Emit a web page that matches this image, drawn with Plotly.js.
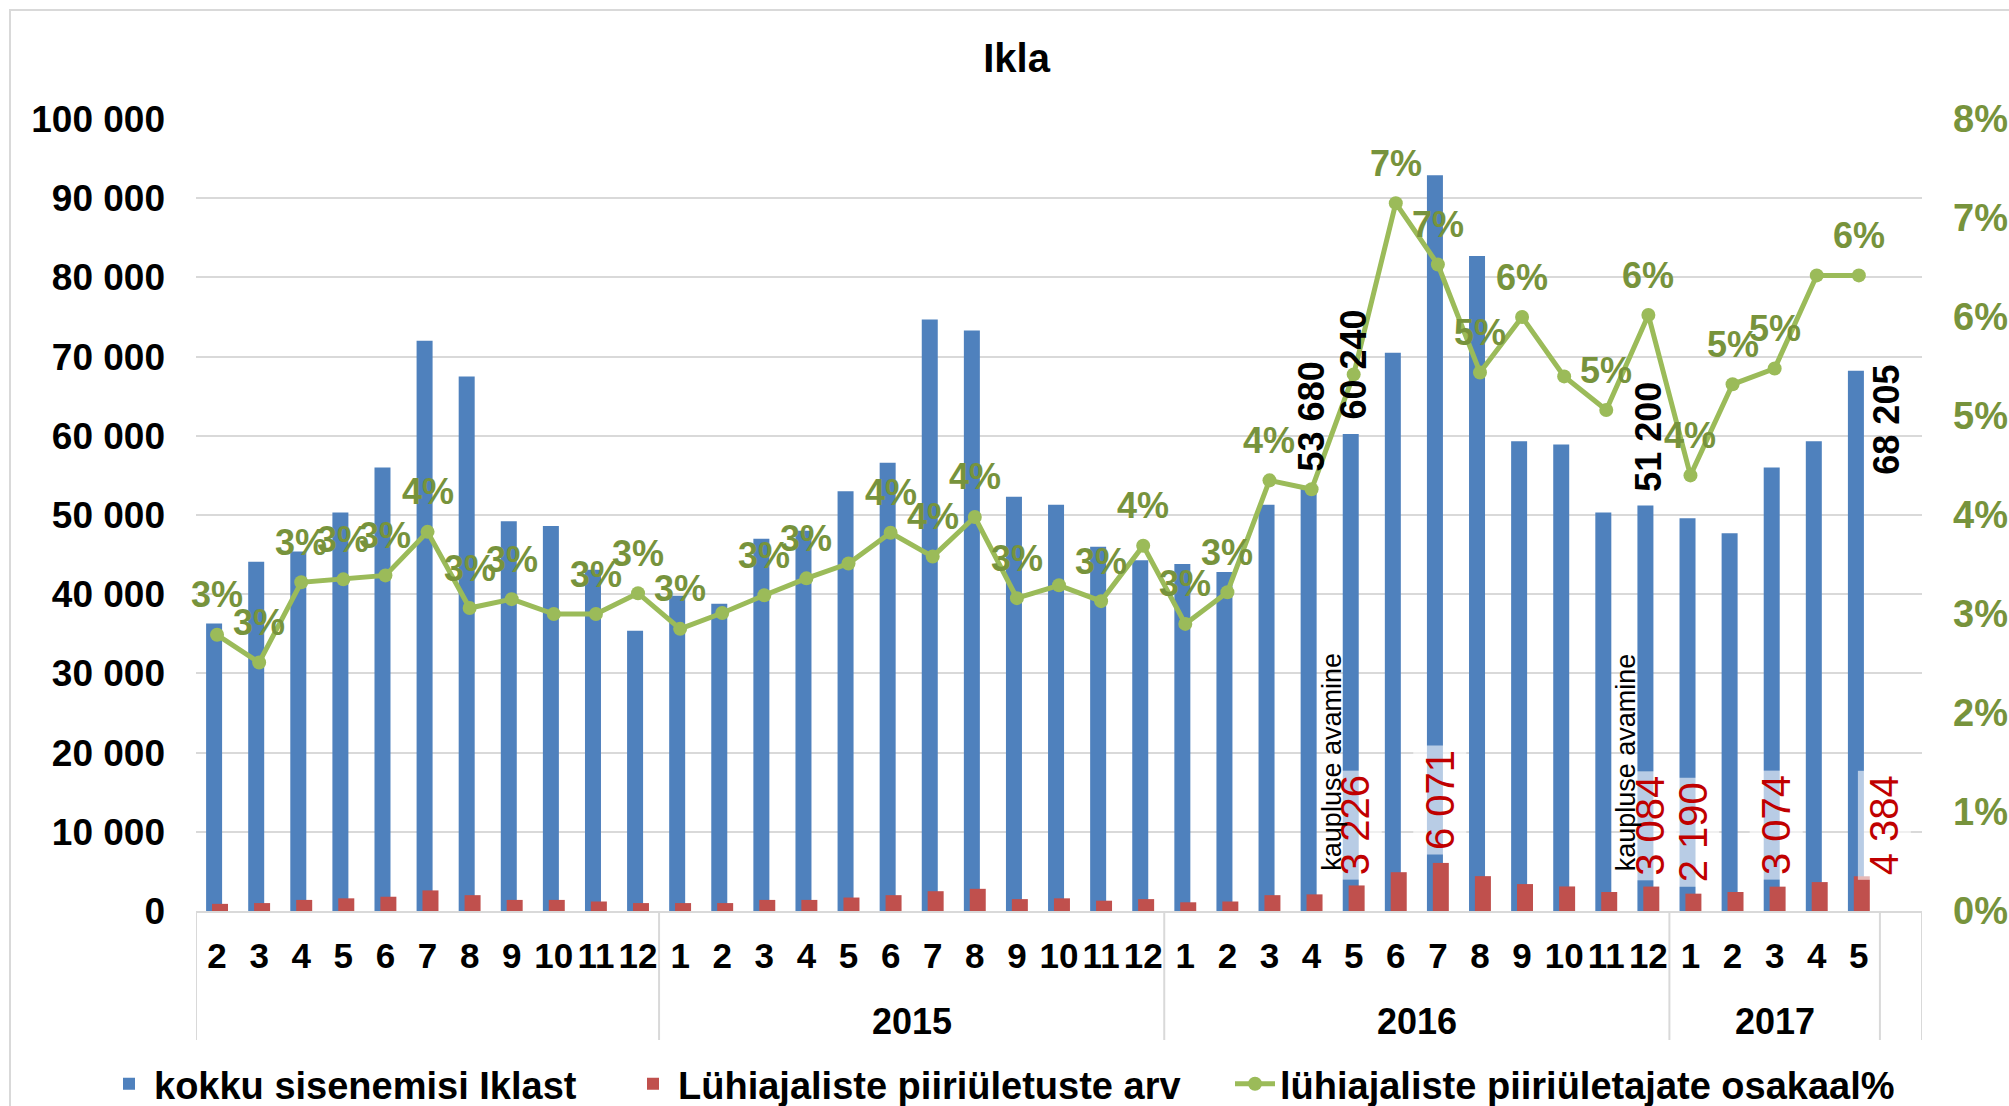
<!DOCTYPE html>
<html>
<head>
<meta charset="utf-8">
<script src="https://cdn.plot.ly/plotly-3.0.1.min.js"></script>
<style>html,body{margin:0;padding:0;background:#fff;}#chart{width:2009px;height:1106px;}</style>
</head>
<body>
<div id="chart"></div>
<script>
// ---- data ----
const monthLabels = ['2','3','4','5','6','7','8','9','10','11','12',
  '1','2','3','4','5','6','7','8','9','10','11','12',
  '1','2','3','4','5','6','7','8','9','10','11','12',
  '1','2','3','4','5'];
const yearLabels = ['','','','','','','','','','','',
  '2015','2015','2015','2015','2015','2015','2015','2015','2015','2015','2015','2015',
  '2016','2016','2016','2016','2016','2016','2016','2016','2016','2016','2016','2016',
  '2017','2017','2017','2017','2017'];
const totalEntries = [36300, 44100, 45400, 50300, 56000, 72000, 67500, 49200, 48600, 43100, 35400,
  39800, 38800, 47000, 48000, 53000, 56600, 74700, 73300, 52300, 51300, 46000, 44300,
  43800, 42800, 51300, 53680, 60240, 70500, 92900, 82700, 59300, 58900, 50300, 51200,
  49600, 47700, 56000, 59300, 68205];
const shortCrossings = [900, 1000, 1400, 1600, 1800, 2600, 2000, 1400, 1400, 1200, 1000,
  1000, 1000, 1400, 1400, 1700, 2000, 2500, 2800, 1500, 1600, 1300, 1500,
  1100, 1200, 2000, 2100, 3226, 4900, 6071, 4400, 3400, 3100, 2400, 3084,
  2190, 2400, 3074, 3650, 4384];
const sharePct = [2.79, 2.51, 3.32, 3.35, 3.39, 3.83, 3.06, 3.15, 3.00, 3.00, 3.21,
  2.85, 3.01, 3.19, 3.36, 3.51, 3.82, 3.58, 3.98, 3.16, 3.29, 3.13, 3.69,
  2.90, 3.22, 4.35, 4.26, 5.42, 7.15, 6.53, 5.44, 6.00, 5.40, 5.06, 6.02,
  4.40, 5.32, 5.48, 6.42, 6.42];
const shareHiddenLabels = [8, 12, 15, 20, 26, 27, 32, 38];
const totalLabelIdx = [26, 27, 34, 39];
const shortLabelIdx = [27, 29, 34, 35, 37, 39];
const noteIdx = [27, 34];
const noteText = 'kaupluse avamine';
const seriesNames = ['kokku sisenemisi Iklast', 'Lühiajaliste piiriületuste arv', 'lühiajaliste piiriületajate osakaal%'];

// ---- styles ----
const FONT = 'Liberation Sans, Arial, sans-serif';
const BLUE = '#4f81bd', RED = '#c0504d', GREEN = '#9bbb59', OLIVE = '#77933c', GRID = '#d9d9d9';
const N = monthLabels.length;
const idx = monthLabels.map((_, i) => i);
const fmt = v => String(v).replace(/\B(?=(\d{3})+(?!\d))/g, ' ');
const PLOT_H = 792;

const traces = [
  {type: 'bar', name: seriesNames[0], x: idx, y: totalEntries, marker: {color: BLUE},
   width: 0.38, offset: -0.26, legend: 'legend'},
  {type: 'bar', name: seriesNames[1], x: idx, y: shortCrossings, marker: {color: RED},
   width: 0.38, offset: -0.12, legend: 'legend2'},
  {type: 'scatter', name: seriesNames[2], x: idx, y: sharePct, yaxis: 'y2',
   mode: 'lines+markers', line: {color: GREEN, width: 5}, marker: {color: GREEN, size: 14},
   cliponaxis: false, legend: 'legend3'}
];

const annotations = [];
// percentage labels above line points
sharePct.forEach((v, i) => {
  if (shareHiddenLabels.includes(i)) return;
  annotations.push({xref: 'x', yref: 'y2', x: i, y: v, text: Math.round(v) + '%', showarrow: false,
    yanchor: 'middle', yshift: 40, font: {family: FONT, size: 36, weight: 'bold', color: OLIVE}});
});
shortLabelIdx.forEach(i => {
  let yv = 10800, xs = 2;
  if (shortCrossings[i] > 6000) yv = 14000;
  if (shortCrossings[i] < 2500) yv = 10000;
  if (i === N - 1) xs = 26;
  annotations.push({xref: 'x', yref: 'y', x: i, y: yv, text: fmt(shortCrossings[i]), showarrow: false,
    textangle: -90, xshift: xs, bgcolor: 'rgba(255,255,255,0.6)', borderpad: 4,
    font: {family: FONT, size: 40, color: '#c00000'}});
});
totalLabelIdx.forEach(i => {
  const last = i === N - 1;
  annotations.push({xref: 'x', yref: 'y', x: i, y: totalEntries[i], text: fmt(totalEntries[i]), showarrow: false,
    textangle: -90, yanchor: last ? 'top' : 'bottom', yshift: last ? 8 : 12, xshift: last ? 28 : 0,
    font: {family: FONT, size: 36, weight: 'bold', color: '#000'}});
});
noteIdx.forEach(i => {
  annotations.push({xref: 'x', yref: 'y', x: i, y: 4800, text: noteText, showarrow: false,
    textangle: -90, yanchor: 'bottom', xshift: -22,
    font: {family: FONT, size: 27, color: '#000'}});
});

// year group labels and dividers, derived from yearLabels
const shapes = [];
const divY = -(1040 - 911) / PLOT_H;
let start = 0;
for (let i = 1; i <= N; i++) {
  if (i === N || yearLabels[i] !== yearLabels[start]) {
    if (yearLabels[start] !== '') {
      annotations.push({xref: 'x', yref: 'paper', x: (start + i - 1) / 2, y: -(1021 - 911) / PLOT_H,
        text: yearLabels[start], showarrow: false, yanchor: 'middle',
        font: {family: FONT, size: 36, weight: 'bold', color: '#000'}});
    }
    start = i;
  }
}
const bounds = [-0.5];
for (let i = 1; i < N; i++) if (yearLabels[i] !== yearLabels[i - 1]) bounds.push(i - 0.5);
bounds.push(N - 0.5, N + 0.5);
bounds.forEach(b => shapes.push({type: 'line', xref: 'x', yref: 'paper', x0: b, x1: b, y0: 0, y1: divY,
  line: {color: GRID, width: 2}}));
shapes.push({type: 'rect', xref: 'paper', yref: 'paper', x0: -186 / 1726, x1: 1.2, y0: 1 + 109 / PLOT_H, y1: -0.5,
  line: {color: GRID, width: 2}, layer: 'below'});

const legendFont = {family: FONT, size: 38, weight: 'bold', color: '#000'};
const legendBase = {orientation: 'h', xref: 'container', yref: 'container', y: 1 - 1084 / 1106,
  yanchor: 'middle', font: legendFont, itemwidth: 40, bgcolor: 'rgba(0,0,0,0)'};

const layout = {
  width: 2009, height: 1106,
  margin: {l: 196, r: 87, t: 119, b: 195},
  paper_bgcolor: '#fff', plot_bgcolor: '#fff',
  separators: ', ',
  font: {family: FONT, color: '#000'},
  title: {text: 'Ikla', font: {family: FONT, size: 40, weight: 'bold', color: '#000'},
    xref: 'container', x: 0.506, xanchor: 'center', yref: 'container', y: 0.9476, yanchor: 'middle'},
  barmode: 'overlay',
  showlegend: true,
  legend: Object.assign({}, legendBase, {x: 104 / 2009}),
  legend2: Object.assign({}, legendBase, {x: 628 / 2009}),
  legend3: Object.assign({}, legendBase, {x: 1230 / 2009}),
  xaxis: {type: 'linear', range: [-0.5, N + 0.5], tickmode: 'array', tickvals: idx, ticktext: monthLabels,
    tickangle: 0, showgrid: false, zeroline: false, showline: true, linecolor: GRID, linewidth: 2, ticks: '',
    ticklabelstandoff: 13, tickfont: {family: FONT, size: 35, weight: 'bold', color: '#000'}},
  yaxis: {range: [0, 100000], dtick: 10000, tickformat: ',d', showgrid: true, gridcolor: GRID, gridwidth: 2,
    zeroline: false, showline: false, ticks: '', ticklabelstandoff: 30,
    tickfont: {family: FONT, size: 37, weight: 'bold', color: '#000'}},
  yaxis2: {overlaying: 'y', side: 'right', range: [0, 8], dtick: 1, ticksuffix: '%', showgrid: false,
    zeroline: false, showline: false, ticks: '', ticklabelstandoff: 30,
    tickfont: {family: FONT, size: 38, weight: 'bold', color: OLIVE}},
  annotations: annotations,
  shapes: shapes
};

Plotly.newPlot('chart', traces, layout, {displayModeBar: false, staticPlot: true});
</script>
</body>
</html>
